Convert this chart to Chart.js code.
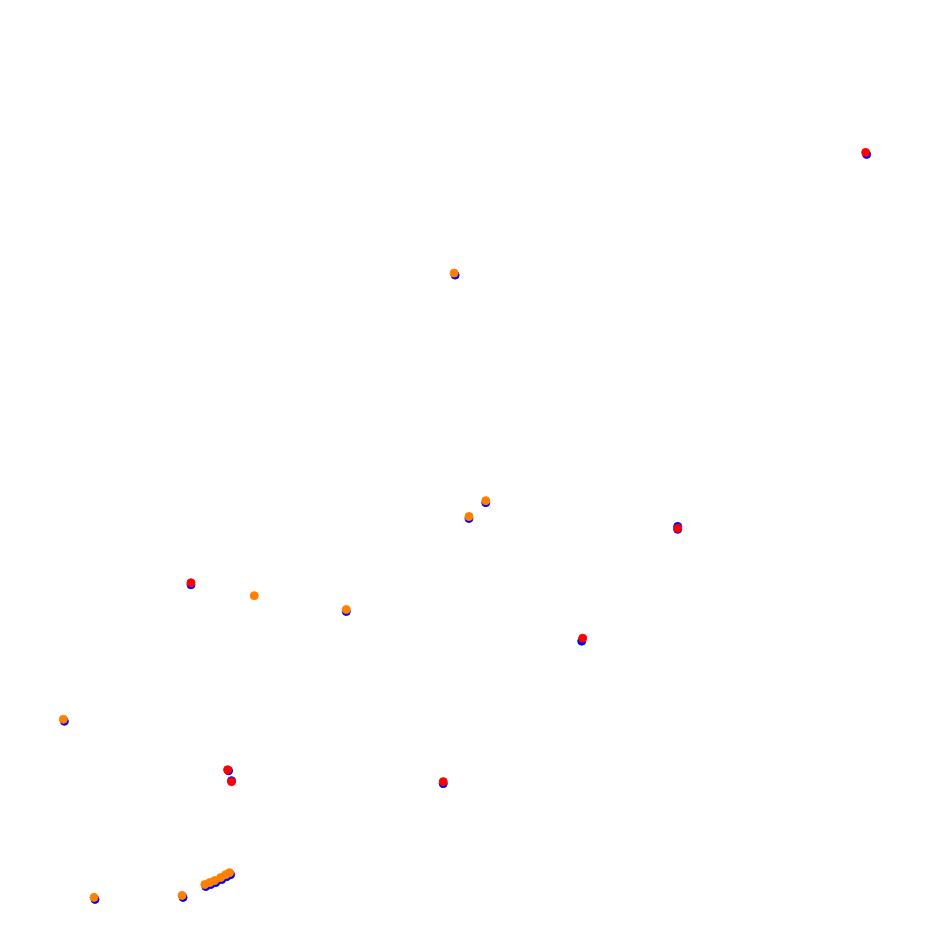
<!DOCTYPE html>
<html>
<head>
<meta charset="utf-8">
<script src="https://cdn.jsdelivr.net/npm/chart.js@4/dist/chart.umd.min.js"></script>
<style>
  html, body { margin: 0; padding: 0; background: #fff; }
  #wrap { width: 931px; height: 940px; }
</style>
</head>
<body>
<div id="wrap"><canvas id="track" width="931" height="940"></canvas></div>
<script>
// positions (x to the right, y downward)
const redX = [870, 680, 188, 584, 225, 229, 443];
const redY = [149, 529, 584, 640, 773, 785, 785];

const orangeX = [454, 486, 469, 252, 345, 59, 179, 90, 202, 207, 212, 218, 223, 227];
const orangeY = [271, 501, 517, 597, 611, 722, 900, 902, 889, 887, 885, 882, 879, 877];

const blueX = [871, 680, 680, 188, 583, 226, 229, 443, 455, 486, 469, 345, 60, 180, 91, 203, 208, 213, 219, 224, 228];
const blueY = [151, 527, 530, 586, 643, 774, 784, 787, 273, 503, 519, 613, 724, 902, 904, 891, 889, 887, 884, 881, 879];

const toPoints = (xs, ys) => xs.map((x, i) => ({ x: x, y: ys[i] }));

new Chart(document.getElementById("track"), {
  type: "scatter",
  data: {
    datasets: [
      {
        label: "red",
        data: toPoints(redX, redY),
        backgroundColor: "#ff0000",
        borderColor: "#ff0000",
        pointRadius: 4,
        borderWidth: 1,
        order: 1
      },
      {
        label: "orange",
        data: toPoints(orangeX, orangeY),
        backgroundColor: "#ff8000",
        borderColor: "#ff8000",
        pointRadius: 4,
        borderWidth: 1,
        order: 2
      },
      {
        label: "blue",
        data: toPoints(blueX, blueY),
        backgroundColor: "#0000ff",
        borderColor: "#0000ff",
        pointRadius: 4,
        borderWidth: 1,
        order: 3
      }
    ]
  },
  options: {
    responsive: false,
    animation: false,
    layout: { padding: 0 },
    plugins: {
      legend: { display: false },
      tooltip: { enabled: false }
    },
    scales: {
      x: { type: "linear", display: false, min: 0, max: 931 },
      y: { type: "linear", display: false, min: 0, max: 940, reverse: true }
    }
  }
});
</script>
</body>
</html>
